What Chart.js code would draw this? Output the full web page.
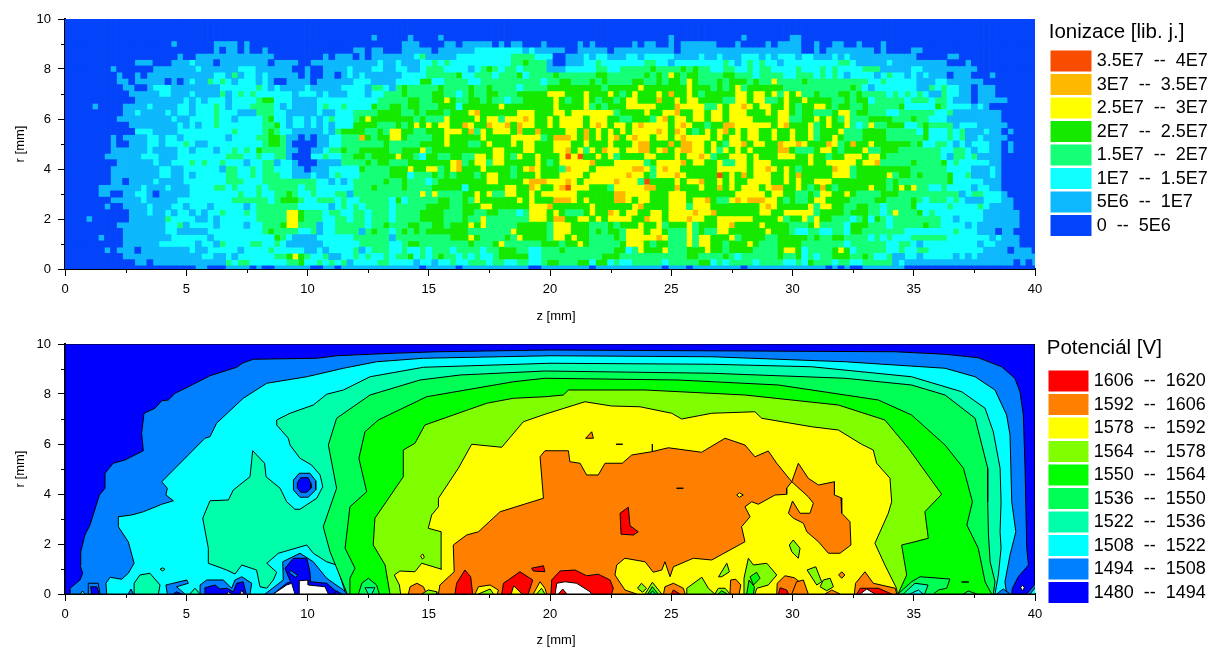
<!DOCTYPE html>
<html><head><meta charset="utf-8">
<style>html,body{margin:0;padding:0;background:#fff}canvas{position:absolute;left:0}</style>
<script src="https://cdn.jsdelivr.net/npm/chart.js@4/dist/chart.umd.js"></script>
</head><body>
<canvas id="c1" width="1209" height="324" style="top:0"></canvas>
<canvas id="c2" width="1209" height="324" style="top:324px"></canvas>
<script>
// ---------- tick values ----------
const zTicks=[0,5,10,15,20,25,30,35,40];
const rTicks=[0,2,4,6,8,10];
const zMinor=[2.5,7.5,12.5,17.5,22.5,27.5,32.5,37.5];
const rMinor=[1,3,5,7,9];
// ---------- ionisation legend ----------
const ionLabels=["0  --  5E6","5E6  --  1E7","1E7  --  1.5E7","1.5E7  --  2E7","2E7  --  2.5E7","2.5E7  --  3E7","3E7  --  3.5E7","3.5E7  --  4E7"];
const ionColors=["#0344FB","#0DB8FC","#11FFFF","#15FF77","#15E900","#FFFF00","#FFB800","#F84C00"];
// ---------- potential legend ----------
const potLabels=["1480  --  1494","1494  --  1508","1508  --  1522","1522  --  1536","1536  --  1550","1550  --  1564","1564  --  1578","1578  --  1592","1592  --  1606","1606  --  1620"];
const potColors=["#0000FF","#0080FF","#00FFFF","#00FFAA","#00FF55","#00FF00","#80FF00","#FFFF00","#FF8000","#FF0000","#FFFFFF"];
// ---------- ionisation class per cell, rows from r=10 to r=0 in 0.25 mm, columns z=0..40 in 0.25 mm ----------
const ionRows=[
"0".repeat(161),"0".repeat(161),"0".repeat(161),
"0000000000 0000000000 0000000000 0000000000 0000000000 0100 000100 0010000000 0000000000 0000000000 0000000000 10000000 00 0010000000 1100000000 0000000000 0000000000 0000000000 0",
"0000000000 0000000010 0000011110 1000000000 0000000000 0000 001110 0001101111 1010110001 0000010100 0000101100 10111111 00 0100001011 1100100110 0100010000 0000000000 0000000000 0",
"0000000000 0000000000 0000010110 1001000000 0000000011 0110 001111 1011111122 2222221211 1110011111 0111111111 10111111 11 1111111111 1100101111 1111010000 1100000000 0000000000 0",
"0000000000 0000000001 0011111111 1111100000 0001011101 0111 111123 1111122222 2222333322 2001112122 1112212222 21111211 21 1122212122 2122111212 1111111111 1000001100 0000000000 0",
"0000000000 0011100011 1211101111 1111011110 0111111111 1121 121112 2323222222 2222334333 1001112232 2222223322 12222222 23 2123232212 2222222233 2111112111 1111110001 0000000000 0",
"0000000010 0000011111 1121111112 2211111100 1001111211 1221 122112 3332222123 4323323333 1112222233 2233333433 33434332 23 3223233222 2322232322 2233311111 2211111111 1000000000 0",
"0000000001 0010111111 1111122131 2212111110 1001101212 1111 112222 3333342233 3233342333 3433333344 3333334343 54344333 34 4333233332 2333232321 2222123221 2121110111 0001000000 0",
"0000000001 1011111010 1211323212 2212100111 1011111122 2111 122224 4223333223 3333333332 3344333434 3333443343 44354333 43 4443433533 3343333333 3332232222 2111221111 1100000000 0",
"0000000000 1100122211 1111112222 2232121111 2111112222 1332 134333 3343333433 4333323333 4444444443 4444454444 44454443 43 4534444443 3333333333 4321222222 2113232211 0111000000 0",
"0000000000 0111112211 1211113123 2322222212 2212111222 1223 334333 3443323433 4433344444 5554445444 5434544454 64454344 44 4554554535 4533433344 3433332323 2321132211 0111000000 0",
"0000000000 0011111111 2121222122 2234422211 1122222222 2233 333443 3445433443 4332334444 4543445434 4345544464 45455444 43 3554553345 4454444334 3442333332 3332332111 0111110000 0",
"0000010000 1111211112 2122232122 2333321211 1123223222 2433 443443 3344424444 4454444444 4544445343 4445555544 46555533 54 5565455445 4344554344 3343333342 2222432222 1210000000 0",
"0000000000 1121111212 2122232221 1133322111 1121122233 3344 443343 4443444564 4444455544 4554555555 5344445445 56445545 54 5554445455 4344333455 3443332233 3333223111 1111100000 0",
"0000000001 1111111121 1222232212 2223422122 1212322234 5444 444434 3335444454 5535556544 5455554555 4433444356 45545545 54 5555444455 3344545435 3334444333 4332221111 1111100000 0",
"0000000000 0111111112 1212232222 2223342122 1212122244 4433 343454 5455446544 6556465544 5455554565 4554565555 45654434 46 6555555456 4445345445 3235334442 2343333122 2111110000 0",
"0000000000 0022211112 2222222232 2223432211 1112134444 3343 554433 4445554635 4555464464 4445546454 5454555565 46543454 56 4545544544 5445344453 3344443333 3242223231 1121101000 0",
"0000000010 1111221221 2222222122 2233443110 1011223336 4344 554333 3445444445 4444555553 4666546454 5645655455 45655554 54 5545544544 5445344543 3344443333 3342223231 1211110000 0",
"0000000010 0111221222 3211222222 2223443100 0011223333 3334 333334 4445444334 5444545544 4555445444 5444566444 64665545 43 5564554465 5654446534 6445444444 3422332121 2221101000 0",
"0000000011 1111211112 2122212232 3243333110 0112334334 4444 334445 3444444444 4554445544 4556453546 5545566456 45665545 35 4545444466 4333455434 4453344433 3333322332 1221101000 0",
"0000000111 1112221112 2222222333 2232233100 0223223344 3444 454432 4433443355 4554354454 4457574454 5344445544 45455653 44 5554544455 5445443445 5545543333 3333321332 3111100000 0",
"0000000001 1111121122 2323223222 1223312210 0011113333 4344 333444 4444563455 3554444454 3455555644 4555553455 55645544 53 3554555444 4445445555 5455633333 4333342322 2221100000 0",
"0000000011 1111112211 2222221332 2323322211 0111222224 3333 444544 5534564445 4444345654 4436555455 5555665356 55444444 55 5554556545 4344444655 3444444444 3333332222 1112100000 0",
"0000000011 1111112211 2122222332 2323332211 1211232223 3333 444233 3434344434 5544344454 4455554555 5556554355 56544444 74 5464555445 4644444555 3444445344 3433334223 1112100000 0",
"0000000011 0111121111 2222222333 2223333333 3322121233 3334 334333 2344444444 5544445666 5556545555 5655537444 45455644 54 5445555445 4544555444 4444443433 3333334222 2211100000 0",
"0000001111 1112111211 1222233232 2232333332 3322222233 3433 334333 3444442444 4445544654 4567555444 3555556644 46444544 64 5455545664 4543464344 4445443454 5332232222 1221100000 0",
"0000001100 1122101111 1222222223 2232233432 2322233133 3333 333335 3533334454 5335544545 5555544444 4665555444 55544444 44 4555554554 4334355445 4333344433 3333333312 3322210000 0",
"0000000011 1112111112 2222222233 3333234443 2233323223 3333 242333 3344334354 4444454544 4666545444 4665455444 55545564 33 5656665543 4334554444 3333443333 4323332321 1122211000 0",
"0000000100 1111211122 1222122222 1233333332 2222123232 3333 233333 4444334445 5444444555 6444444544 4444564444 55535554 44 4444456544 4445355443 3443323333 4222223222 2321111000 0",
"0000000000 0111211212 2121223222 3233333554 3332332233 2333 233334 4443334433 4433323555 4543334544 6545544554 55556556 44 4444455445 5555344443 4443323533 3423222222 2211111100 0",
"0000100000 0111111322 2211212222 2233333554 3332233233 2333 233334 4443334335 3333333555 4664455454 5555446554 55565544 55 5555444453 4453544333 2342432333 3333322122 2211111100 0",
"0000000001 1111111223 1222212222 1223334553 3312233333 2334 333443 3443444545 3333344444 3555444333 4344454453 44453444 55 6444454444 3334533332 4443332333 3343322221 2111111100 0",
"0000000000 1111111221 1111222222 2223433332 2312233331 3433 234343 4444444333 3333544444 3555444343 4435554554 33353433 55 4444445444 3223322332 4433333332 2222222322 2111011000 0",
"0000001000 1111111122 2222122222 2222243211 1122222233 3333 133333 3333444543 3334354444 3554544333 3435555565 33353554 44 5344443344 4443433443 3332323222 3333332222 2221211100 0",
"0000000000 1111112222 2212213222 2332232111 1112222223 3333 223443 3333333433 3453333334 4434454333 3345554344 33353554 43 4445433344 4433333332 3333332233 2122222222 2122111100 0",
"0000000101 1101111111 1211222221 2222322222 1121222231 2333 223223 2333233332 3344433223 3343333333 3442354445 33344454 43 4444333345 5423333454 2333332232 2332222222 2211110111 0",
"0000000000 1111111111 1112211212 2222233454 3223112232 3223 233423 2343323232 2344444223 3333333334 4433333333 33344333 34 3233333343 3423233444 3343223112 2122222121 2111111111 1",
"0000000000 0011011111 1111111323 3222222334 2232323122 2233 222212 2122322333 2332233223 4433344244 2322333332 33333442 32 3333233332 2324333233 2233333121 1111111111 1111111010 1",
"0000000000 0000000000 0011000111 1010011111 1001101111 1111 111110 1111101111 1111111001 1111111011 1111111110 11101111 11 1101111111 1111110101 0011111110 0000000000 0000000000 0"
];
// ---------- potential contour bands: flat z,r lists ----------
const bandBase=[0,0,0,10,40,10,40,0];
const band1494=[.21,0,.21,.23,.62,.56,.73,.83,.62,1.16,.65,1.69,.82,2.36,1.03,2.76,1.42,3.96,1.65,4.23,1.65,4.83,1.99,5.23,2.47,5.36,3.23,5.73,3.16,6.43,3.26,7.23,3.71,7.43,3.99,7.73,4.26,7.76,4.54,8.03,5.09,8.29,5.98,8.73,7.08,9.07,7.35,9.25,7.77,9.39,10.38,9.43,11.2,9.53,13.54,9.63,15.33,9.69,20,9.76,34.23,9.69,36.29,9.59,37.66,9.45,38.62,9.09,39.17,8.63,39.38,8.09,39.52,7.16,39.59,5.03,39.66,1.83,39.73,1.16,39.31,.69,39.07,.23,39.04,0];
const band1508=[1.72,0,1.69,.43,1.86,.67,2.34,.59,2.61,.83,2.85,1.23,2.61,2.09,2.2,2.69,2.2,3.09,2.75,3.16,3.23,3.29,3.99,3.59,4.47,3.73,4.16,3.96,4.22,4.23,3.99,4.49,5.77,6.23,5.98,6.29,6.25,6.83,7.35,7.83,8.32,8.43,9.97,8.69,11.48,9.03,12.85,9.29,14.78,9.43,20,9.53,26.67,9.49,32.16,9.29,36.29,9.03,37.53,8.69,38.35,8.16,38.83,7.16,38.97,6.36,39.04,3.69,39.21,2.49,38.97,1.56,38.76,.49,38.83,0];
const band1522=[11.62,0,11.55,.09,11.2,1.16,10.79,1.29,10.24,1.63,9.97,1.96,8.8,1.63,8.32,1.23,8.73,.87,8.59,.56,8.32,.23,8.04,.29,7.9,.96,7.29,1.16,7.01,.8,6.67,.96,5.91,1.23,5.91,1.83,5.68,3.03,5.98,3.73,6.74,3.76,6.94,4.16,7.63,4.69,7.74,5.73,8.23,5.23,8.29,4.69,8.87,4.23,9.14,3.69,9.48,3.39,9.69,3.39,10.38,3.83,10.63,4.29,10.52,4.76,10.17,5.16,9.69,5.43,9.28,5.96,9.21,6.23,8.73,6.76,8.73,6.96,9.28,7.23,10.24,7.56,10.79,7.99,11.48,8.16,12.58,8.69,14.78,9.07,20,9.23,26.67,9.19,30.79,9.09,34.91,8.69,36.98,8.09,37.94,7.43,38.28,6.49,38.56,5.03,38.6,3.69,38.56,2.49,38.6,1.83,38.49,.76,38.35,0];
const band1536=[11.64,0,10.93,1.69,10.65,2.69,11.2,4.23,10.86,5.96,11.2,7.03,12.58,7.96,14.64,8.56,16.29,8.76,19.79,8.92,26.67,8.83,32.16,8.63,34.91,8.36,36.29,7.96,37.53,7.03,38.05,5.03,38.05,3.69,38.08,2.36,38.15,1.29,38.35,.49,38.28,0];
const band1550=[11.73,0,11.75,.63,11.96,1.03,11.55,1.83,11.75,3.49,12.44,4.09,12.12,5.43,12.37,6.49,12.92,6.96,14.91,7.89,18.49,8.49,19.79,8.63,25.29,8.56,29.42,8.36,33.54,7.76,34.91,7.16,36.29,5.96,37.05,5.03,37.42,3.69,37.19,2.76,37.66,1.83,37.94,.49,38.21,0];
const band1564=[13.4,0,13.2,1.16,12.71,1.96,12.78,3.03,13.95,4.69,13.95,5.76,14.43,6.03,14.84,6.76,16.01,7.16,17.39,7.63,18.49,7.83,19.79,7.89,20.55,7.96,20.76,8.16,23.92,8.16,28.04,7.96,31.89,7.56,33.81,6.96,34.78,5.83,36.15,3.99,35.46,3.29,35.6,2.23,35.05,2.09,34.5,1.96,34.57,1.56,34.71,.76,34.35,0];
const band1578=[13.84,0,13.79,.36,13.58,.76,13.81,.92,14.43,.89,14.71,1.23,15.53,.99,15.51,2.49,14.98,2.63,15.12,3.16,15.4,3.49,15.4,3.83,16.22,5.03,16.77,5.99,18.01,5.87,18.9,6.89,19.79,7.19,21.44,7.69,22.54,7.52,23.71,7.49,25.02,7.23,25.43,7,26.67,7.23,28.45,7.29,28.73,7.03,30.79,6.69,31.89,6.56,32.85,5.99,33.33,5.76,33.47,5.23,34.02,4.63,34.09,3.69,33.95,3.23,33.4,2.03,33.81,1.16,34.29,.23,34.32,0];
const band1592=[15.4,0,15.46,.36,16.05,.89,16.01,1.96,16.56,2.36,17.05,2.49,17.94,3.29,19.73,3.83,19.59,5.49,19.79,5.73,20.76,5.73,20.82,5.29,21.24,5.23,21.51,4.76,21.99,4.76,22.27,5.23,22.98,5.23,23.37,5.56,24.19,5.69,24.88,5.85,26.25,5.67,27.22,6.23,28.04,5.96,28.45,5.49,29,5.72,29.35,5.23,29.97,4.49,29.76,4.23,29.76,3.99,29.28,3.96,28.59,3.59,28.32,3.69,28.04,3.49,28.25,3.09,27.9,2.69,28.04,2.09,27.42,1.76,26.67,1.36,25.91,1.43,25.09,1.09,24.95,.69,24.74,1.29,24.61,.96,24.26,.87,23.92,1.29,23.09,1.43,22.75,1.16,22.68,.76,23.09,.16,23.57,0];
const band1592b=[29.97,4.49,30.24,5.23,30.65,4.63,31.07,4.36,31.73,4.49,31.73,3.96,32,3.85,32.03,3.23,32.37,2.89,32.41,1.96,31.96,1.63,31.48,1.63,31.07,2.09,30.59,2.49,30.45,2.83,30.04,3.03,29.83,3.23,30,3.72,30.31,3.23,30.72,3.23,30.86,3.63,30.65,3.89];
// small closed patches: [band index in potColors, flat z,r list]
const patches=[
[9,[23.23,3.47,22.89,3.23,22.93,2.39,23.44,2.36,23.64,2.49,23.3,2.73]],
[9,[20.04,0,20.07,.56,20.41,.92,21.03,.96,21.51,.73,21.99,.79,22.48,.56,22.61,.23,22.54,0]],
[10,[20.21,0,20.28,.43,20.62,.49,21.1,.43,21.65,.09,21.72,0]],
[9,[20.35,0,20.52,.2,20.7,0]],
[9,[16.08,0,16.15,.43,16.49,.96,16.73,.69,16.81,0]],
[9,[18.01,0,18.08,.43,18.28,.56,18.76,.89,19.29,.56,19.1,0]],
[7,[18.4,0,18.5,.33,18.85,0]],
[9,[19.24,1.03,19.73,1.13,19.79,.89,19.31,.92]],
[7,[16.91,0,17.05,.29,17.53,.36,17.87,.16,17.83,0]],
[6,[17.05,0,17.53,.2,17.67,0]],
[7,[19.31,0,19.59,.49,19.79,.23,19.86,0]],
[6,[19.45,0,19.65,.23,19.79,0]],
[7,[14.66,1.52,14.75,1.6,14.82,1.47,14.74,1.4]],
[8,[14.16,0,14.23,.29,14.51,.43,14.78,.29,14.91,0]],
[6,[14.71,0,14.98,.16,15.33,.09,15.33,0]],
[6,[30.03,2.16,30.31,1.83,30.24,1.43,29.97,1.69,29.87,1.96]],
[6,[30.6,.96,30.96,1.09,31.2,.49,31,.36]],
[6,[31.27,.56,31.55,.63,31.69,.29,31.41,.13,31.14,.29]],
[8,[32.03,.89,32.16,.76,32.03,.63,31.9,.76]],
[6,[28,0,28,.63,28.18,1.43,28.39,1.16,28.94,1.23,29.35,.76,29,.36,28.53,.23,28.45,0]],
[5,[28.11,0,28.21,.56,28.43,.29,28.39,0]],
[5,[28.25,.69,28.52,.87,28.66,.63,28.39,.36]],
[8,[29.35,0,29.37,.43,29.69,.73,30.08,.65,30.36,.43,30.4,0]],
[9,[29.42,0,29.49,.25,29.76,.16,29.83,0]],
[8,[29.97,0,30.17,.49,30.45,.56,30.65,0]],
[8,[27.42,0,27.45,.56,27.66,.59,27.87,.36,27.8,0]],
[6,[25.64,0,25.64,.23,26.26,.67,26.53,.23,26.8,0]],
[6,[26.95,.69,27.29,1.23,27.4,.89,27.08,.69]],
[6,[26.8,0,26.94,.23,27.22,.23,27.42,0]],
[5,[26.94,0,27.08,.13,27.3,0]],
[8,[24.68,0,24.74,.29,25.09,.43,25.5,.23,25.57,0]],
[9,[25,0,25.09,.16,25.36,0]],
[6,[23.92,0,24.22,.47,24.61,0]],
[5,[24.03,0,24.22,.29,24.46,0]],
[3,[24.12,0,24.22,.12,24.36,0]],
[6,[23.61,.23,23.77,.43,23.98,.23,23.82,.07]],
[8,[21.47,6.23,21.72,6.49,21.79,6.23]],
[7,[27.7,3.96,27.81,4.05,27.97,3.96,27.81,3.87]],
[8,[22.72,5.99,23,5.99]],
[8,[25.22,4.23,25.5,4.23]],
[8,[24.22,6,24.22,5.69]],
[4,[36.97,.48,37.27,.48]],
[8,[32.55,0,32.6,.43,32.99,.89,33.33,.43,34.24,.23,34.3,0]],
[9,[32.65,0,32.79,.23,33.54,.23,34.09,0]],
[10,[32.79,0,33.06,.2,33.4,0]],
[8,[31.34,0,31.62,.16,31.96,0]],
[1,[9.42,4.56,9.66,4.83,10.1,4.83,10.34,4.53,10.34,4.16,10.03,3.87,9.69,3.87,9.42,4.16]],
[0,[9.58,4.45,9.72,4.65,10.03,4.65,10.14,4.43,10.14,4.23,9.97,4.07,9.72,4.07,9.58,4.25]],
[1,[8.25,0,9,.56,8.98,1.29,9.69,1.63,10.24,1.29,10.79,.63,11.48,.16,11.64,0]],
[0,[8.59,0,9.14,.43,9.3,.49,9.07,1.03,9.42,1.43,9.97,1.43,10.1,.89,10.13,.49,10.79,.43,11.27,.03,11.3,0]],
[10,[8.59,0,9.14,.36,9.35,.43,9.48,0]],
[10,[9.66,0,9.66,.53,10.03,.56,10.03,.36,10.72,.29,10.86,0]],
[1,[9.3,.95,9.6,.75,9.5,.67,9.25,.85]],
[1,[.96,0,.96,.43,1.37,.43,1.44,0]],
[0,[1.1,0,1.06,.29,1.31,.29,1.42,0]],
[2,[.62,0,.73,.12,.82,0]],
[3,[2.85,0,2.85,.43,3.09,.76,3.5,.83,3.92,.36,3.85,0]],
[1,[4.16,.36,5.02,.56,5.09,.43,4.6,.29,4.95,0,4.22,0]],
[0,[4.47,0,4.6,.09,4.81,0]],
[1,[2.61,0,2.72,.2,2.82,0]],
[3,[5.15,0,5.36,.23,5.57,0]],
[1,[5.57,0,5.57,.36,5.84,.56,6.53,.56,6.87,.23,7.01,.56,7.29,.69,7.7,.43,7.63,0]],
[0,[5.77,0,5.77,.25,6.19,.36,6.39,.2,6.67,.23,6.94,.09,7.08,.43,7.35,.49,7.47,0]],
[10,[7.22,0,7.29,.16,7.38,0]],
[10,[6.67,0,6.74,.09,6.87,0]],
[3,[3.92,.99,4.03,1.05,4.12,.99,4.03,.92]],
[0,[11.05,0,11.2,.12,11.41,0]],
[1,[39.66,0,40.03,.43,40.03,0]],
[2,[39.8,0,40.03,.29,40.03,0]],
[1,[38.42,0,38.69,.2,38.97,0]],
[10,[39.48,.36,39.56,.25,39.48,.13,39.41,.25]],
[4,[34.35,0,34.91,.49,35.26,.69,36.49,.6,36.36,.23,36.02,.16,35.81,0]],
[3,[34.57,0,35.05,.43,35.59,.36,35.45,0]],
[2,[34.84,0,35.19,.16,35.39,0]],
[4,[37.05,0,37.25,.12,37.6,0]],
[4,[12.1,0,12.24,.43,12.51,.63,12.85,.36,12.96,0]],
[3,[12.37,.25,12.78,.25,12.65,0,12.51,0]]
];
const mainBands=[[0,bandBase],[1,band1494],[2,band1508],[3,band1522],[4,band1536],[5,band1550],[6,band1564],[7,band1578],[8,band1592],[8,band1592b]];

// ---------- build datasets ----------
const cellStep=0.25;
const ionData=ionColors.map(()=>[]);
ionRows.forEach((row,n)=>{
  const s=row.replace(/ /g,"");
  const r=10-n*cellStep;
  for(let m=0;m<s.length;m++){
    ionData[+s[m]].push({x:m*cellStep,y:[r-cellStep/2,r+cellStep/2]});
  }
});
const ionDatasets=ionData.map((d,i)=>({data:d,backgroundColor:ionColors[i],borderWidth:0,barPercentage:1,categoryPercentage:1,grouped:false}));
function poly(flat){const p=[];for(let i=0;i<flat.length;i+=2)p.push({x:flat[i],y:flat[i+1]});p.push({x:flat[0],y:flat[1]});return p;}
const potLayers=mainBands.concat(patches);
const potDatasets=potLayers.map(([lvl,flat],i)=>({
  type:"scatter",data:poly(flat),showLine:true,fill:"shape",tension:0,
  backgroundColor:potColors[lvl],borderColor:"#000",borderWidth:1,pointRadius:0,pointHoverRadius:0,
  order:potLayers.length-i
}));

const FONT="'Liberation Sans',Arial,sans-serif";
const chromePlugin=cfg=>({
  id:"chrome",
  beforeLayout(chart){
    const l=chart.legend;
    if(l&&!l.__w){l.__w=1;const f=l.fit;l.fit=function(){f.call(this);this.width=174;};}
    const s=chart.scales.x;
    if(s&&!s.__t){s.__t=1;const d=s.drawTitle;s.drawTitle=function(){const c=this.ctx;c.save();c.translate(6,0);d.call(this);c.restore();};}
  },
  afterLayout(chart){
    const l=chart.legend;l.left=cfg.legendLeft;l.top=cfg.legendTop;l.right=l.left+174;
  },
  afterDraw(chart){
    const c=chart.ctx,x=chart.scales.x,y=chart.scales.y;
    c.save();c.strokeStyle="#000";c.lineWidth=1;c.beginPath();
    zMinor.forEach(v=>{const p=Math.round(x.getPixelForValue(v))+.5;c.moveTo(p,x.top);c.lineTo(p,x.top+4);});
    rMinor.forEach(v=>{const p=Math.round(y.getPixelForValue(v))+.5;c.moveTo(y.right,p);c.lineTo(y.right-4,p);});
    c.stroke();c.restore();
  }
});
function options(cfg){
  const gridOpts={display:true,drawOnChartArea:false,drawTicks:true,tickLength:7,tickColor:"#000",tickWidth:1,offset:false};
  return {
    responsive:false,animation:false,devicePixelRatio:1,events:[],
    layout:{padding:{top:cfg.top,left:0,right:0,bottom:0}},
    plugins:{
      tooltip:{enabled:false},
      legend:{display:true,position:"right",align:"start",
        title:{display:true,text:cfg.title,position:"start",color:"#000",font:{family:FONT,size:20.5},padding:{top:0,bottom:cfg.titleGap}},
        labels:{color:"#000",font:{family:FONT,size:18},boxWidth:cfg.boxW,boxHeight:13.5,padding:5.5,
          generateLabels:()=>cfg.labels.map((t,i)=>({text:t,fillStyle:cfg.colors[i],strokeStyle:cfg.colors[i],lineWidth:7.5,hidden:false,fontColor:"#000",index:i})).reverse()}
      }
    },
    scales:{
      x:{type:"linear",min:0,max:40,position:"bottom",offset:false,
        afterFit:s=>{s.height=cfg.xh;},
        afterBuildTicks:s=>{s.ticks=zTicks.map(v=>({value:v}));},
        border:{display:true,color:"#000",width:2},grid:gridOpts,
        ticks:{color:"#000",font:{family:FONT,size:13},padding:6,maxRotation:0,autoSkip:false},
        title:{display:true,text:"z [mm]",color:"#000",font:{family:FONT,size:13},padding:{top:0,bottom:0}}},
      y:{type:"linear",min:0,max:10,position:"left",
        afterFit:s=>{s.width=65;},
        afterBuildTicks:s=>{s.ticks=rTicks.map(v=>({value:v}));},
        border:{display:true,color:"#000",width:2},grid:gridOpts,
        ticks:{color:"#000",font:{family:FONT,size:13},padding:7,autoSkip:false},
        title:{display:true,text:"r [mm]",color:"#000",font:{family:FONT,size:13},padding:{top:13,bottom:0}}}
    }
  };
}
const cfgTop={top:19,xh:55,title:"Ionizace [lib. j.]",titleGap:0,labels:ionLabels,colors:ionColors,boxW:33.5,legendLeft:1048.75,legendTop:22};
const cfgBot={top:20,xh:54,title:"Potenciál [V]",titleGap:4,labels:potLabels,colors:potColors,boxW:32.5,legendLeft:1046.75,legendTop:14};
new Chart(document.getElementById("c1"),{type:"bar",data:{datasets:ionDatasets},options:options(cfgTop),plugins:[chromePlugin(cfgTop)]});
new Chart(document.getElementById("c2"),{type:"scatter",data:{datasets:potDatasets},options:options(cfgBot),plugins:[chromePlugin(cfgBot)]});
</script>
</body></html>
